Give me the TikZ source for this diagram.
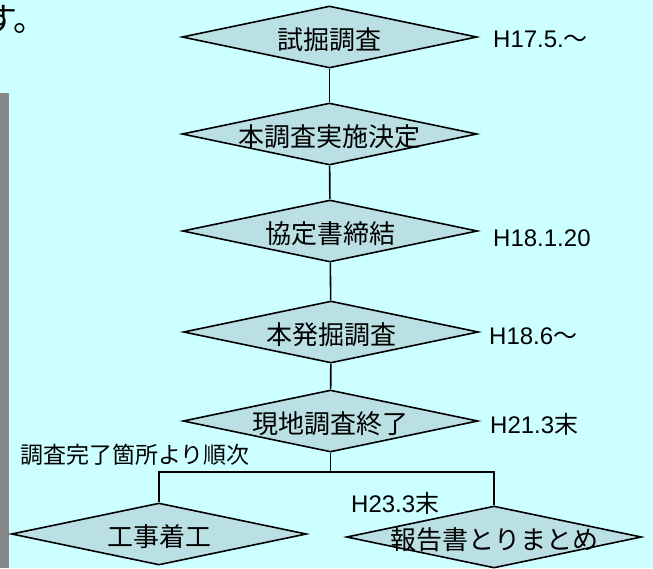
\documentclass[tikz,border=0pt]{standalone}
\usepackage{fontspec}
\setmainfont{Noto Sans CJK JP}
\newfontfamily\lat{Liberation Sans}
\usepackage{tikz}
\usetikzlibrary{shapes.geometric}
\definecolor{sky}{RGB}{204,255,255}
\definecolor{boxfill}{RGB}{187,224,227}
\definecolor{barcol}{RGB}{136,136,136}

\begin{document}
\begin{tikzpicture}[x=1pt, y=-1pt,
		stage/.style={diamond, draw, line width=1.6pt, fill=boxfill, minimum width=295pt, minimum height=62pt, inner sep=0pt,
			label={[inner sep=0pt, yshift=-3pt, font=\fontsize{26}{28}\selectfont]center:#1}},
		date/.style={anchor=base west, inner sep=0pt, font=\fontsize{24}{26}\selectfont},
		link/.style={line width=1.6pt}]
		\useasboundingbox (0,0) rectangle (653,568);
		\fill[sky] (0,0) rectangle (653,568);
		\fill[barcol] (0,93) rectangle (9,568);
		
		\node (intro) at (-16,31) [anchor=base west, inner sep=0pt, font=\fontsize{33}{35}\selectfont] {す。};
		
		\node (trial) at (329.5,37) [stage=試掘調査] {};
		\node (decide) at (329.5,134) [stage=本調査実施決定] {};
		\node (accord) at (330,231) [stage=協定書締結] {};
		\node (dig) at (331,332) [stage=本発掘調査] {};
		\node (finish) at (330.5,421) [stage=現地調査終了] {};
		\node (works) at (159,534) [stage=工事着工] {};
		\node (report) at (494,537) [stage=報告書とりまとめ] {};
		
		\node (trial-date) at (493,47) [date] {{\lat H17.5.}〜};
		\node (accord-date) at (493,246) [date] {\lat H18.1.20};
		\node (dig-date) at (489,344) [date] {{\lat H18.6}〜};
		\node (finish-date) at (490,433) [date] {{\lat H21.3}末};
		\node (report-date) at (351,512) [date] {{\lat H23.3}末};
		\node (order) at (20,463) [date, font=\fontsize{23}{25}\selectfont] {調査完了箇所より順次};
		
		\draw[link] (trial) -- (decide);
		\draw[link] (decide) -- (accord);
		\draw[link] (accord) -- (dig);
		\draw[link] (dig) -- (finish);
		\coordinate (fork) at (330.5,472);
		\draw[link] (finish) -- (fork);
		\draw[link] (fork) -| (works);
		\draw[link] (fork) -| (report);
		
	\end{tikzpicture}
\end{document}
